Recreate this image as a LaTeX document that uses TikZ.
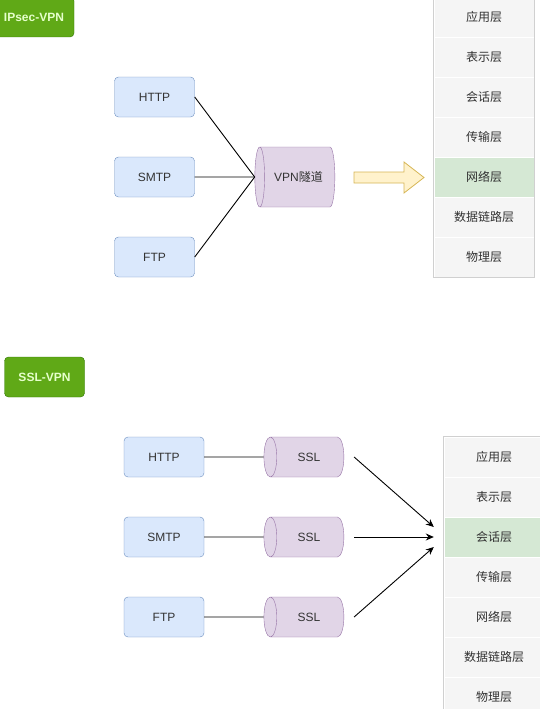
\documentclass[tikz,border=0pt]{standalone}
\usepackage{fontspec}
\setmainfont{Liberation Sans}
\newfontfamily\cjk{Noto Sans CJK SC}
\usetikzlibrary{arrows.meta, positioning, shapes.geometric}
\definecolor{tagfill}{HTML}{60A917}
\definecolor{tagline}{HTML}{2D7600}
\definecolor{tagtext}{HTML}{E6FFCC}
\definecolor{protofill}{HTML}{DAE8FC}
\definecolor{protoline}{HTML}{6C8EBF}
\definecolor{tunfill}{HTML}{E1D5E7}
\definecolor{tunline}{HTML}{9673A6}
\definecolor{layfill}{HTML}{F5F5F5}
\definecolor{layline}{HTML}{D0D0D0}
\definecolor{hifill}{HTML}{D5E8D4}
\definecolor{txt}{HTML}{333333}
\definecolor{bafill}{HTML}{FFF2CC}
\definecolor{baline}{HTML}{D6B656}

\begin{document}
\begin{tikzpicture}[x=1pt,y=-1pt,node distance=80pt,on grid,font=\fontsize{12}{14}\selectfont]
    \tikzstyle{tag}=[shape=rectangle,rounded corners=4pt,draw=tagline,fill=tagfill,text=tagtext,font=\fontsize{12}{14}\selectfont\bfseries,minimum width=80pt,minimum height=40pt]
    \tikzstyle{proto}=[shape=rectangle,rounded corners=4pt,draw=protoline,fill=protofill,text=txt,minimum width=80pt,minimum height=40pt]
    \tikzstyle{tube}=[shape=cylinder,shape border rotate=180,draw=tunline,fill=tunfill,text=txt,minimum height=80pt]
    \tikzstyle{layer}=[shape=rectangle,draw=white,fill=layfill,text=txt,minimum width=100pt,minimum height=40pt,node distance=40pt]
    \tikzstyle{link}=[draw,line width=0.9pt]

    \useasboundingbox (0,0) rectangle (539,709);

    % IPsec-VPN
    \node[tag] (I) at (34,17) {IPsec-VPN};

    \node[proto] (P1) at (154.5,97) {HTTP};
    \node[proto,below of=P1] (P2) {SMTP};
    \node[proto,below of=P2] (P3) {FTP};
    \node[tube,aspect=0.55,minimum width=60pt,right of=P2,node distance=144pt] (T) {VPN{\cjk 隧道}};

    \node[layer] (A1) at (484,17) {\cjk 应用层};
    \node[layer,below of=A1] (A2) {\cjk 表示层};
    \node[layer,below of=A2] (A3) {\cjk 会话层};
    \node[layer,below of=A3] (A4) {\cjk 传输层};
    \node[layer,fill=hifill,below of=A4] (A5) {\cjk 网络层};
    \node[layer,below of=A5] (A6) {\cjk 数据链路层};
    \node[layer,below of=A6] (A7) {\cjk 物理层};
    \draw[layline,line width=0.8pt] (A1.north west) rectangle (A7.south east);

    \path[link]
    (P1.east) edge (T.west)
    (P2.east) edge (T.west)
    (P3.east) edge (T.west);

    \draw[baline,fill=bafill,line width=0.8pt] (354,172) -- (404,172) -- (404,162) -- (424,177.5)
        -- (404,193) -- (404,183) -- (354,183) -- cycle;

    % SSL-VPN
    \node[tag] (S) at (44.5,377) {SSL-VPN};

    \node[proto] (Q1) at (164,457) {HTTP};
    \node[proto,below of=Q1] (Q2) {SMTP};
    \node[proto,below of=Q2] (Q3) {FTP};
    \node[tube,aspect=0.85,minimum width=40pt,right of=Q1,node distance=145pt] (C1) {SSL};
    \node[tube,aspect=0.85,minimum width=40pt,right of=Q2,node distance=145pt] (C2) {SSL};
    \node[tube,aspect=0.85,minimum width=40pt,right of=Q3,node distance=145pt] (C3) {SSL};

    \node[layer] (B1) at (494,457) {\cjk 应用层};
    \node[layer,below of=B1] (B2) {\cjk 表示层};
    \node[layer,fill=hifill,below of=B2] (B3) {\cjk 会话层};
    \node[layer,below of=B3] (B4) {\cjk 传输层};
    \node[layer,below of=B4] (B5) {\cjk 网络层};
    \node[layer,below of=B5] (B6) {\cjk 数据链路层};
    \node[layer,below of=B6] (B7) {\cjk 物理层};
    \draw[layline,line width=0.8pt] (B1.north west) rectangle (B7.south east);

    \coordinate[right=10pt of C1.east] (o1);
    \coordinate[right=10pt of C2.east] (o2);
    \coordinate[right=10pt of C3.east] (o3);
    \coordinate[left=10pt of B3.west,yshift=10pt] (i1);
    \coordinate[left=10pt of B3.west] (i2);
    \coordinate[left=10pt of B3.west,yshift=-10pt] (i3);

    \path[link]
    (Q1.east) edge (C1.west)
    (Q2.east) edge (C2.west)
    (Q3.east) edge (C3.west)
    (o1) edge[-{Stealth[length=8pt,width=7pt]}] (i1)
    (o2) edge[-{Stealth[length=8pt,width=7pt]}] (i2)
    (o3) edge[-{Stealth[length=8pt,width=7pt]}] (i3);

\end{tikzpicture}
\end{document}
